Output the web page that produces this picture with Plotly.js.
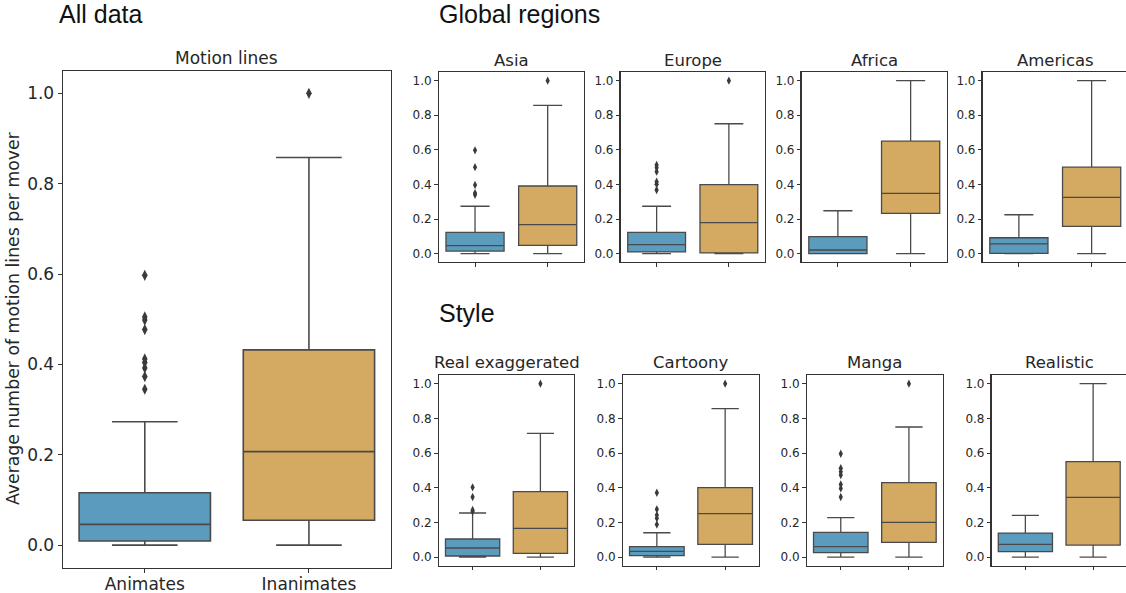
<!DOCTYPE html>
<html>
<head>
<meta charset="utf-8">
<script src="https://cdn.plot.ly/plotly-3.0.1.min.js"></script>
<style>
html, body { margin: 0; padding: 0; overflow: hidden; background: #fff; }
#chart { width: 1130px; height: 593px; }
</style>
</head>
<body>
<div id="chart"></div>
<script>
// ---------------- DATA ----------------
const groups = ['Animates', 'Inanimates'];
const panelNames = ['Motion lines', 'Asia', 'Europe', 'Africa', 'Americas',
                    'Real exaggerated', 'Cartoony', 'Manga', 'Realistic'];
const sectionTitles = ['All data', 'Global regions', 'Style'];
const yLabel = 'Average number of motion lines per mover';
const yTickVals = [0, 0.2, 0.4, 0.6, 0.8, 1.0];
const yTickText = ['0.0', '0.2', '0.4', '0.6', '0.8', '1.0'];

// Animates box statistics per panel
const animLow    = [0, 0, 0, 0, 0, 0, 0, 0, 0];
const animQ1     = [0.009, 0.015, 0.010, 0.000, 0.002, 0.006, 0.008, 0.025, 0.031];
const animMedian = [0.046, 0.046, 0.052, 0.021, 0.056, 0.052, 0.033, 0.060, 0.073];
const animQ3     = [0.116, 0.123, 0.123, 0.098, 0.092, 0.104, 0.060, 0.142, 0.138];
const animHigh   = [0.273, 0.274, 0.274, 0.248, 0.225, 0.254, 0.140, 0.227, 0.240];
const animOutliers = [
  [0.345, 0.373, 0.392, 0.404, 0.412, 0.477, 0.498, 0.505, 0.597],
  [0.340, 0.350, 0.397, 0.500, 0.597],
  [0.368, 0.401, 0.416, 0.474, 0.497, 0.512],
  [],
  [],
  [0.262, 0.271, 0.346, 0.402],
  [0.188, 0.223, 0.242, 0.275, 0.371],
  [0.346, 0.396, 0.419, 0.473, 0.492, 0.512, 0.596],
  []
];

// Inanimates box statistics per panel
const inanLow    = [0, 0, 0, 0, 0, 0, 0, 0, 0];
const inanQ1     = [0.055, 0.048, 0.004, 0.233, 0.158, 0.021, 0.073, 0.085, 0.069];
const inanMedian = [0.207, 0.168, 0.179, 0.348, 0.325, 0.165, 0.250, 0.200, 0.344];
const inanQ3     = [0.432, 0.391, 0.399, 0.650, 0.500, 0.377, 0.400, 0.429, 0.550];
const inanHigh   = [0.858, 0.857, 0.751, 1.000, 1.000, 0.713, 0.856, 0.750, 1.000];
const inanOutliers = [
  [1.0], [1.0], [1.0], [], [], [1.0], [1.0], [1.0], []
];

// ---------------- LAYOUT GEOMETRY ----------------
const W = 1130, H = 593;
const px = v => v / W;
const py = v => 1 - v / H;
// [left, right, top, bottom] in pixels
const boxesPx = [
  [62.7, 391, 70.7, 567.7],
  [438.7, 584, 72, 262.3], [620.5, 765, 72, 262.3], [801.5, 947, 72, 262.3], [982.5, 1128, 72, 262.3],
  [438.7, 574.3, 375, 565.7], [622.7, 759.3, 375, 565.7], [806.7, 943, 375, 565.7], [991.5, 1127, 375, 565.7]
];

const blue = '#5b9bbe';
const orange = '#d4a962';
const lineCol = '#4a4a4a';
const axisCol = '#333333';
const FONT = 'DejaVu Sans, sans-serif';

const traces = [];
const layout = {
  width: W, height: H,
  margin: {l: 0, r: 0, t: 0, b: 0},
  paper_bgcolor: '#fff', plot_bgcolor: '#fff',
  showlegend: false,
  boxmode: 'overlay',
  font: {family: FONT, color: '#262626'},
  annotations: []
};

for (let i = 0; i < 9; i++) {
  const sfx = i === 0 ? '' : String(i + 1);
  const xa = 'x' + sfx, ya = 'y' + sfx;
  const main = i === 0;
  const fnt = main ? 17 : 12;
  const specs = [
    {name: groups[0], col: blue, low: animLow[i], q1: animQ1[i], med: animMedian[i], q3: animQ3[i], high: animHigh[i], out: animOutliers[i]},
    {name: groups[1], col: orange, low: inanLow[i], q1: inanQ1[i], med: inanMedian[i], q3: inanQ3[i], high: inanHigh[i], out: inanOutliers[i]}
  ];
  specs.forEach(s => {
    traces.push({
      type: 'box', xaxis: xa, yaxis: ya,
      x: [s.name], q1: [s.q1], median: [s.med], q3: [s.q3],
      lowerfence: [s.low], upperfence: [s.high],
      boxpoints: false, width: 0.8, whiskerwidth: 0.5,
      fillcolor: s.col, line: {color: lineCol, width: main ? 1.6 : 1.3},
      hoverinfo: 'skip'
    });
    if (s.out.length) {
      traces.push({
        type: 'scatter', mode: 'markers', xaxis: xa, yaxis: ya,
        x: s.out.map(() => s.name), y: s.out,
        marker: {symbol: 'diamond-tall', size: main ? 8 : 6, color: '#3a3a3a'},
        hoverinfo: 'skip'
      });
    }
  });

  const b = boxesPx[i];
  layout['xaxis' + sfx] = {
    domain: [px(b[0]), px(b[1])], anchor: ya,
    type: 'category', categoryarray: groups, categoryorder: 'array',
    range: [-0.5, 1.5], fixedrange: true,
    showline: true, mirror: true, linecolor: axisCol, linewidth: 1.1,
    showgrid: false, zeroline: false,
    ticks: 'outside', ticklen: main ? 4 : 3.5, tickwidth: 1, tickcolor: axisCol,
    showticklabels: main, ticklabelstandoff: -3,
    tickfont: {family: FONT, size: 17, color: '#262626'}
  };
  layout['yaxis' + sfx] = {
    domain: [py(b[3]), py(b[2])], anchor: xa,
    range: [-0.05, 1.05], fixedrange: true,
    showline: true, mirror: true, linecolor: axisCol, linewidth: 1.1,
    showgrid: false, zeroline: false,
    ticks: 'outside', ticklen: main ? 4 : 3.5, tickwidth: 1, tickcolor: axisCol,
    tickvals: yTickVals, ticktext: yTickText,
    tickfont: {family: FONT, size: fnt, color: '#262626'}
  };

  // panel title (baseline-based placement)
  const tSize = main ? 17 : 16.5;
  const baseline = main ? 64.5 : (i <= 4 ? 66.7 : 369.5);
  layout.annotations.push({
    text: panelNames[i], xref: 'paper', yref: 'paper',
    x: px((b[0] + b[1]) / 2), xanchor: 'center',
    y: py(baseline + 0.236 * tSize + 1), yanchor: 'bottom',
    showarrow: false, font: {family: FONT, size: tSize, color: '#262626'}
  });
}

// section headings
const secFont = 'Liberation Sans, Arial, sans-serif';
const secPos = [[58, 23.5], [438, 23.5], [438, 322.5]];
sectionTitles.forEach((t, k) => {
  layout.annotations.push({
    text: t, xref: 'paper', yref: 'paper',
    x: px(secPos[k][0] - 1), xanchor: 'left',
    y: py(secPos[k][1] + 0.212 * 25 + 1), yanchor: 'bottom',
    showarrow: false, font: {family: secFont, size: 25, color: '#111'}
  });
});

// y-axis label for main panel
layout.annotations.push({
  text: yLabel, xref: 'paper', yref: 'paper',
  x: px(13), xanchor: 'center', y: py(318), yanchor: 'middle',
  textangle: -90, showarrow: false,
  font: {family: FONT, size: 17.3, color: '#262626'}
});

Plotly.newPlot('chart', traces, layout, {staticPlot: true, displayModeBar: false});
</script>
</body>
</html>
